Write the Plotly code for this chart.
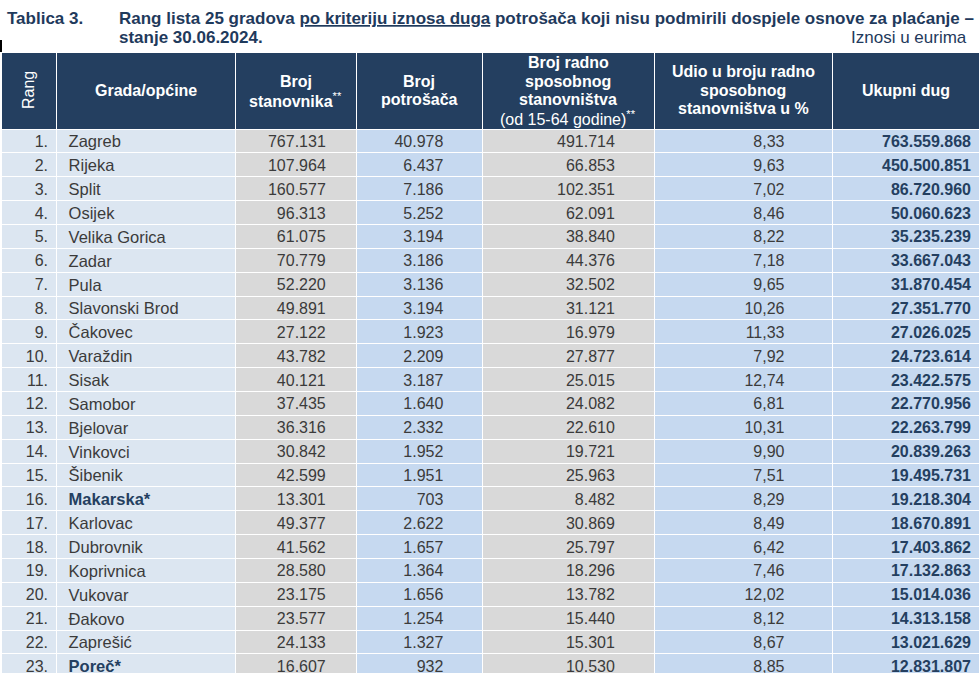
import plotly.graph_objects as go

# ---------------- data ----------------
rang = list(range(1, 24))
gradovi = ["Zagreb", "Rijeka", "Split", "Osijek", "Velika Gorica", "Zadar", "Pula",
           "Slavonski Brod", "Čakovec", "Varaždin", "Sisak", "Samobor", "Bjelovar",
           "Vinkovci", "Šibenik", "Makarska*", "Karlovac", "Dubrovnik", "Koprivnica",
           "Vukovar", "Đakovo", "Zaprešić", "Poreč*"]
istaknuti = ["Makarska*", "Poreč*"]
broj_stanovnika = [767131, 107964, 160577, 96313, 61075, 70779, 52220, 49891, 27122,
                   43782, 40121, 37435, 36316, 30842, 42599, 13301, 49377, 41562,
                   28580, 23175, 23577, 24133, 16607]
broj_potrosaca = [40978, 6437, 7186, 5252, 3194, 3186, 3136, 3194, 1923, 2209, 3187,
                  1640, 2332, 1952, 1951, 703, 2622, 1657, 1364, 1656, 1254, 1327, 932]
radno_sposobni = [491714, 66853, 102351, 62091, 38840, 44376, 32502, 31121, 16979,
                  27877, 25015, 24082, 22610, 19721, 25963, 8482, 30869, 25797,
                  18296, 13782, 15440, 15301, 10530]
udio_posto = [8.33, 9.63, 7.02, 8.46, 8.22, 7.18, 9.65, 10.26, 11.33, 7.92, 12.74,
              6.81, 10.31, 9.90, 7.51, 8.29, 8.49, 6.42, 7.46, 12.02, 8.12, 8.67, 8.85]
ukupni_dug = [763559868, 450500851, 86720960, 50060623, 35235239, 33667043, 31870454,
              27351770, 27026025, 24723614, 23422575, 22770956, 22263799, 20839263,
              19495731, 19218304, 18670891, 17403862, 17132863, 15014036, 14313158,
              13021629, 12831807]

header_lines = [
    ["Rang"],
    ["<b>Grada/općine</b>"],
    ["<b>Broj</b>", "<b>stanovnika</b><sup>**</sup>"],
    ["<b>Broj</b>", "<b>potrošača</b>"],
    ["<b>Broj radno</b>", "<b>sposobnog</b>", "<b>stanovništva</b>", "(od 15-64 godine)<sup>**</sup>"],
    ["<b>Udio u broju radno</b>", "<b>sposobnog</b>", "<b>stanovništva u %</b>"],
    ["<b>Ukupni dug</b>"],
]

title_left = "Tablica 3."
title_main = ("Rang lista 25 gradova <u>po kriteriju iznosa duga</u> potrošača koji nisu "
              "podmirili dospjele osnove za plaćanje –")
title_line2 = "stanje 30.06.2024."
units_note = "Iznosi u eurima"

# ---------------- formatting ----------------
NB = "\u00a0"

def fmt_int(v):
    return f"{v:,}".replace(",", ".")

def fmt_dec(v):
    return f"{v:.2f}".replace(".", ",")

def pad_r(s, k):
    return s + NB * k

def grad_label(g):
    return NB + g.replace(" ", NB)

n = len(rang)
col_rang = [f"{r}." for r in rang]
col_grad = ["" if g in istaknuti else grad_label(g) for g in gradovi]
col_grad_bold = [grad_label(g) if g in istaknuti else "" for g in gradovi]
col_stan = [pad_r(fmt_int(v), 5) for v in broj_stanovnika]
col_potr = [pad_r(fmt_int(v), 7) for v in broj_potrosaca]
col_radno = [pad_r(fmt_int(v), 7) for v in radno_sposobni]
col_udio = [pad_r(fmt_dec(v), 9) for v in udio_posto]
col_dug = [fmt_int(v) for v in ukupni_dug]
empty = [""] * n

# ---------------- styling ----------------
W, H = 979, 673
FONT = "Liberation Sans, Arial, sans-serif"
NAVY = "#243f60"
TITLE_C = "#1f3a5c"
TXT = "#3b3b3b"
BLUE_L = "#dce6f1"
BLUE = "#c6d9f0"
GREY = "#d9d9d9"
CLEAR = "rgba(0,0,0,0)"

colwidths = [55, 179, 121, 126.5, 171.5, 178.5, 146.5]
x_left = 1
header_top, header_h, row_h = 52, 77, 23.86
text_lift = 2  # text sits slightly above the table's default top-aligned position
grid_domain = dict(x=[x_left / W, 1], y=[0, 1 - header_top / H])
text_domain = dict(x=[x_left / W, 1], y=[0, 1 - (header_top - text_lift) / H])
aligns = ["right", "left", "right", "right", "right", "right", "right"]
sizes = [16, 16.5, 16, 16, 16, 16, 16]

fig = go.Figure()
# grid: fills and white rules
fig.add_trace(go.Table(
    domain=grid_domain,
    columnwidth=colwidths,
    header=dict(values=[""] * 7, fill_color=NAVY,
                line=dict(color="white", width=1), height=header_h),
    cells=dict(
        values=[empty] * 7,
        fill_color=[BLUE_L, BLUE_L, GREY, BLUE, GREY, BLUE, BLUE],
        line=dict(color="white", width=1),
        height=row_h,
    ),
))
# regular cell texts
fig.add_trace(go.Table(
    domain=text_domain,
    columnwidth=colwidths,
    header=dict(values=[""] * 7, fill_color=CLEAR,
                line=dict(color=CLEAR, width=1), height=header_h),
    cells=dict(
        values=[col_rang, col_grad, col_stan, col_potr, col_radno, col_udio, col_dug],
        align=aligns,
        fill_color=CLEAR,
        line=dict(color=CLEAR, width=1),
        font=dict(family=FONT, size=sizes,
                  color=[TXT, TXT, TXT, TXT, TXT, TXT, NAVY],
                  weight=["normal", "normal", "normal", "normal", "normal", "normal", "bold"]),
        height=row_h,
    ),
))
# bold city names
fig.add_trace(go.Table(
    domain=text_domain,
    columnwidth=colwidths,
    header=dict(values=[""] * 7, fill_color=CLEAR,
                line=dict(color=CLEAR, width=1), height=header_h),
    cells=dict(
        values=[empty, col_grad_bold, empty, empty, empty, empty, empty],
        align=aligns,
        fill_color=CLEAR,
        line=dict(color=CLEAR, width=1),
        font=dict(family=FONT, size=sizes, color=NAVY, weight="bold"),
        height=row_h,
    ),
))

# header labels
annotations = []
hc_y = 1 - (header_top + header_h / 2) / H
xpos = x_left
for i, (w, lines) in enumerate(zip(colwidths, header_lines)):
    cx = (xpos + w / 2) / W
    xpos += w
    if i == 0:
        annotations.append(dict(x=cx, y=hc_y, xref="paper", yref="paper",
                                text=lines[0], textangle=-90, showarrow=False,
                                font=dict(family=FONT, size=16, color="white"),
                                xanchor="center", yanchor="middle"))
        continue
    k = len(lines)
    for j, ln in enumerate(lines):
        annotations.append(dict(x=cx, y=hc_y, xref="paper", yref="paper",
                                text=ln, showarrow=False,
                                yshift=-(j - (k - 1) / 2) * 18.5,
                                font=dict(family=FONT, size=16, color="white"),
                                xanchor="center", yanchor="middle"))

# title texts
annotations += [
    dict(x=5 / W, y=1 - 18 / H, xref="paper", yref="paper", text=f"<b>{title_left}</b>",
         showarrow=False, xanchor="left", yanchor="middle",
         font=dict(family=FONT, size=17, color=TITLE_C)),
    dict(x=117 / W, y=1 - 18 / H, xref="paper", yref="paper", text=f"<b>{title_main}</b>",
         showarrow=False, xanchor="left", yanchor="middle",
         font=dict(family=FONT, size=17, color=TITLE_C)),
    dict(x=117 / W, y=1 - 37 / H, xref="paper", yref="paper", text=f"<b>{title_line2}</b>",
         showarrow=False, xanchor="left", yanchor="middle",
         font=dict(family=FONT, size=17, color=TITLE_C)),
    dict(x=969 / W, y=1 - 37.5 / H, xref="paper", yref="paper", text=units_note,
         showarrow=False, xanchor="right", yanchor="middle",
         font=dict(family=FONT, size=17, color=TITLE_C)),
]

fig.update_layout(
    width=W, height=H,
    margin=dict(l=0, r=0, t=0, b=0),
    paper_bgcolor="white",
    annotations=annotations,
    shapes=[dict(type="rect", xref="paper", yref="paper", x0=0, x1=2 / W,
                 y0=1 - 52 / H, y1=1 - 40 / H, fillcolor="black", line_width=0)],
)

fig.write_html("out.html",
               config={"displayModeBar": False},
               post_script="document.body.style.margin='0px';document.body.style.overflow='hidden';")
